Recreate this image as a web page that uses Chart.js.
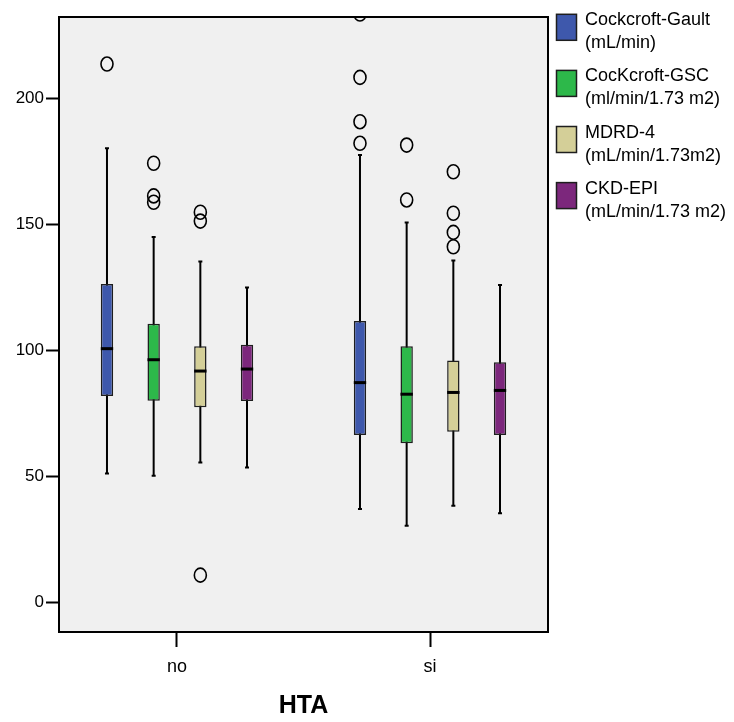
<!DOCTYPE html>
<html>
<head>
<meta charset="utf-8">
<script src="https://cdn.jsdelivr.net/npm/chart.js@4/dist/chart.umd.min.js"></script>
<style>
  body { margin: 0; background: #fff; }
  #wrap { width: 734px; height: 722px; }
</style>
</head>
<body>
<div id="wrap"><canvas id="chart" width="734" height="722"></canvas></div>
<script>
// groups on the x axis
const groups = ['no', 'si'];
const yTicks = [0, 50, 100, 150, 200];

// one entry per series, legend text split in two lines
const seriesLabels = [
  ['Cockcroft-Gault', '(mL/min)'],
  ['CocKcroft-GSC', '(ml/min/1.73 m2)'],
  ['MDRD-4', '(mL/min/1.73m2)'],
  ['CKD-EPI', '(mL/min/1.73 m2)']
];
const seriesColors = ['#3e58ac', '#2db84a', '#d4cf98', '#7c277c'];

// box plot stats, each row = one series, [no, si]
const whiskerLow  = [[51.1, 37.0], [50.2, 30.3], [55.5, 38.3], [53.5, 35.3]];
const q1          = [[81.9, 66.4], [80.0, 63.1], [77.4, 67.7], [79.9, 66.4]];
const median      = [[100.7, 87.2], [96.3, 82.6], [91.8, 83.3], [92.6, 84.1]];
const q3          = [[126.4, 111.7], [110.6, 101.7], [101.7, 96.0], [102.3, 95.3]];
const whiskerHigh = [[180.3, 177.7], [145.1, 150.8], [135.3, 135.7], [125.0, 126.0]];
const outliers = [
  [[213.8], [182.3, 190.9, 208.5, 233.7]],
  [[158.9, 161.4, 174.4], [159.8, 181.6]],
  [[10.7, 151.4, 154.9], [141.2, 146.9, 154.5, 171.0]],
  [[], []]
];

const fontFamily = "'Liberation Sans', Arial, Helvetica, sans-serif";
Chart.defaults.font.family = fontFamily;
Chart.defaults.color = '#000';

const datasets = seriesLabels.map((lbl, s) => ({
  label: lbl,
  data: groups.map((g, i) => ({ x: i, y: [q1[s][i], q3[s][i]] })),
  backgroundColor: seriesColors[s],
  borderColor: '#1e1e1e',
  borderWidth: 1.5,
  borderSkipped: false,
  categoryPercentage: 0.738,
  barPercentage: 0.265
}));

const boxPlotPlugin = {
  id: 'boxplot',
  beforeDraw(chart) {
    const { ctx, chartArea: a } = chart;
    ctx.save();
    ctx.fillStyle = '#f0f0f0';
    ctx.fillRect(a.left, a.top, a.right - a.left, a.bottom - a.top);
    ctx.restore();
  },
  beforeDatasetsDraw(chart) {
    const { ctx } = chart;
    const y = chart.scales.y;
    ctx.save();
    ctx.strokeStyle = '#000';
    ctx.lineWidth = 2;
    chart.data.datasets.forEach((ds, s) => {
      chart.getDatasetMeta(s).data.forEach((bar, i) => {
        const lo = y.getPixelForValue(whiskerLow[s][i]);
        const hi = y.getPixelForValue(whiskerHigh[s][i]);
        ctx.beginPath();
        ctx.moveTo(bar.x, lo);
        ctx.lineTo(bar.x, hi);
        ctx.stroke();
        // small end caps
        ctx.beginPath();
        ctx.moveTo(bar.x - 2, lo);
        ctx.lineTo(bar.x + 2, lo);
        ctx.moveTo(bar.x - 2, hi);
        ctx.lineTo(bar.x + 2, hi);
        ctx.stroke();
      });
    });
    ctx.restore();
  },
  afterDatasetsDraw(chart) {
    const { ctx, chartArea: a } = chart;
    const y = chart.scales.y;
    ctx.save();
    ctx.beginPath();
    ctx.rect(a.left, a.top, a.right - a.left, a.bottom - a.top);
    ctx.clip();
    chart.data.datasets.forEach((ds, s) => {
      chart.getDatasetMeta(s).data.forEach((bar, i) => {
        const m = y.getPixelForValue(median[s][i]);
        ctx.strokeStyle = '#000';
        ctx.lineWidth = 3;
        ctx.beginPath();
        ctx.moveTo(bar.x - bar.width / 2, m);
        ctx.lineTo(bar.x + bar.width / 2, m);
        ctx.stroke();
        ctx.lineWidth = 1.6;
        outliers[s][i].forEach(v => {
          ctx.beginPath();
          ctx.ellipse(bar.x, y.getPixelForValue(v), 6, 7, 0, 0, Math.PI * 2);
          ctx.stroke();
        });
      });
    });
    ctx.restore();

    // frame round the plot
    ctx.save();
    ctx.strokeStyle = '#000';
    ctx.lineWidth = 2;
    ctx.strokeRect(a.left, a.top, a.right - a.left, a.bottom - a.top);
    ctx.restore();

    // legend on the right
    ctx.save();
    ctx.font = '18px ' + fontFamily;
    ctx.textBaseline = 'alphabetic';
    ctx.textAlign = 'left';
    chart.data.datasets.forEach((ds, s) => {
      const bx = a.right + 8.5;
      const by = a.top - 2.7 + s * 56.1;
      ctx.fillStyle = ds.backgroundColor;
      ctx.fillRect(bx, by, 20, 26);
      ctx.strokeStyle = '#1e1e1e';
      ctx.lineWidth = 1.5;
      ctx.strokeRect(bx, by, 20, 26);
      ctx.fillStyle = '#000';
      ctx.fillText(ds.label[0], bx + 28.5, by + 11);
      ctx.fillText(ds.label[1], bx + 28.5, by + 34);
    });
    ctx.restore();
  }
};

new Chart(document.getElementById('chart'), {
  type: 'bar',
  data: { datasets: datasets },
  options: {
    responsive: false,
    animation: false,
    layout: { padding: { top: 17, right: 186, left: 0, bottom: 0 } },
    plugins: {
      legend: { display: false },
      tooltip: { enabled: false }
    },
    scales: {
      x: {
        type: 'linear',
        offset: false,
        min: -0.4664,
        max: 1.4664,
        afterBuildTicks: (scale) => { scale.ticks = groups.map((g, i) => ({ value: i })); },
        afterFit: (scale) => { scale.height = 90; },
        ticks: {
          callback: (v) => groups[v],
          font: { size: 18 },
          padding: 9,
          maxRotation: 0
        },
        grid: { offset: false, drawOnChartArea: false, drawTicks: true, tickLength: 15, tickColor: '#000', tickWidth: 2 },
        border: { display: false },
        title: {
          display: true,
          text: 'HTA',
          font: { size: 25, weight: 'bold', lineHeight: 1 },
          padding: { top: 0, bottom: 3.5 }
        }
      },
      y: {
        type: 'linear',
        min: -11.9,
        max: 232.5,
        afterBuildTicks: (scale) => { scale.ticks = yTicks.map(v => ({ value: v })); },
        afterFit: (scale) => { scale.width = 59; },
        ticks: { font: { size: 17 }, padding: 2 },
        grid: { drawOnChartArea: false, drawTicks: true, tickLength: 13, tickColor: '#000', tickWidth: 2 },
        border: { display: false }
      }
    }
  },
  plugins: [boxPlotPlugin]
});
</script>
</body>
</html>
